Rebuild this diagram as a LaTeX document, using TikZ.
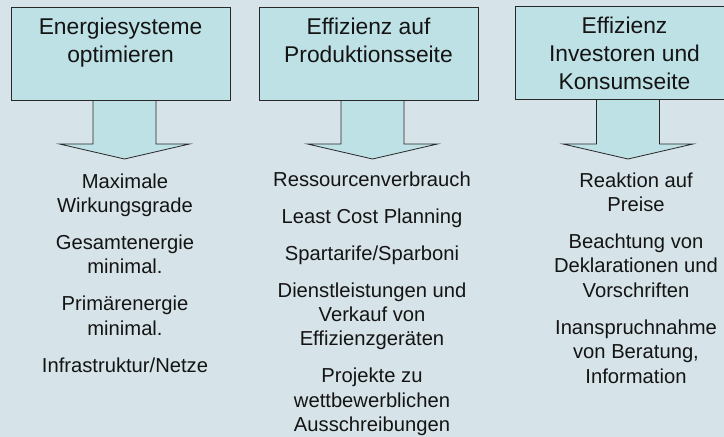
\documentclass[tikz,border=0pt]{standalone}
\usepackage{fontspec}
\setmainfont{Liberation Sans}
\definecolor{bg}{RGB}{214,227,233}
\definecolor{boxfill}{RGB}{190,225,229}
\definecolor{edge}{RGB}{40,40,40}
\newcommand\blockarrow[4]{% #1 center x, #2 top y, #3 head y, #4 tip y
  \draw[arrowshape] (#1-31.5,#2) -- (#1-31.5,#3) -- (#1-65,#3) -- (#1,#4)
    -- (#1+65,#3) -- (#1+31.5,#3) -- (#1+31.5,#2) -- cycle;}
\begin{document}
\begin{tikzpicture}[x=1pt,y=-1pt,
  headbox/.style={draw=edge, fill=boxfill, line width=0.8pt, minimum width=219pt,
    minimum height=93pt, anchor=north west, inner sep=0pt},
  headtext/.style={font=\fontsize{22.8}{28}\selectfont, align=center, anchor=base,
    inner sep=0pt, text=black!92},
  item/.style={font=\fontsize{20.2}{24.4}\selectfont, align=center, anchor=base,
    inner sep=0pt, text=black!92},
  arrowshape/.style={draw=edge, fill=boxfill, line width=0.8pt, line join=miter}]
\clip (0,0) rectangle (724,437);
\fill[bg] (0,0) rectangle (724,437);
% arrows
\blockarrow{124.5}{100}{144}{159}
\blockarrow{372.5}{100}{144}{159}
\blockarrow{628}{99}{144}{159}
% boxes
\node[headbox] (b1) at (11,7) {};
\node[headbox] (b2) at (259,7) {};
\node[headbox] (b3) at (515,6) {};
% (anchor=base is the baseline of the last line)
\node[headtext] (h1) at (120.5,62) {Energiesysteme\\optimieren};
\node[headtext] (h2) at (368.5,62) {Effizienz auf\\Produktionsseite};
\node[headtext] (h3) at (624.5,89.5) {Effizienz\\Investoren und\\Konsumseite};
% column 1
\node[item] (a1) at (125,212.4) {Maximale\\Wirkungsgrade};
\node[item] (a2) at (125,273.8) {Gesamtenergie\\minimal.};
\node[item] (a3) at (125,335.2) {Primärenergie\\minimal.};
\node[item] (a4) at (125,372.2) {Infrastruktur/Netze};
% column 2
\node[item] (p1) at (372,186) {Ressourcenverbrauch};
\node[item] (p2) at (372,223) {Least Cost Planning};
\node[item] (p3) at (372,260) {Spartarife/Sparboni};
\node[item] (p4) at (372,345.8) {Dienstleistungen und\\Verkauf von\\Effizienzgeräten};
\node[item] (p5) at (372,431.6) {Projekte zu\\wettbewerblichen\\Ausschreibungen};
% column 3
\node[item] (k1) at (636,211.4) {Reaktion auf\\Preise};
\node[item] (k2) at (636,297.2) {Beachtung von\\Deklarationen und\\Vorschriften};
\node[item] (k3) at (636,383) {Inanspruchnahme\\von Beratung,\\Information};
\end{tikzpicture}
\end{document}
